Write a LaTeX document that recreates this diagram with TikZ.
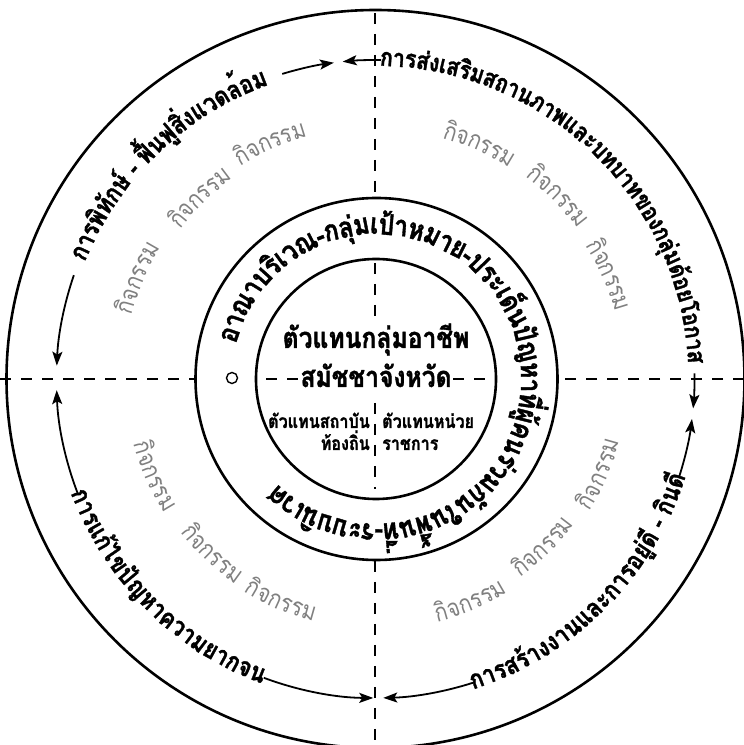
\documentclass[tikz,border=0pt]{standalone}
\usepackage{fontspec}
\newfontfamily\thai[Script=Thai]{Loma}
\newfontfamily\thaiN[Script=Thai,FakeStretch=0.85,BoldFeatures={FakeBold=1.2}]{Loma}
\usetikzlibrary{decorations.text,arrows.meta,calc}
\newcommand\lblfont{\thaiN\bfseries\fontsize{26}{28}\selectfont}
\newcommand\lblfontb{\thaiN\bfseries\fontsize{25}{27}\selectfont}
\newcommand\ringfont{\thaiN\bfseries\fontsize{29}{31}\selectfont}
\newcommand\actfont{\thaiN\fontsize{25}{27}\selectfont}
\definecolor{actgray}{gray}{0.5}
% #1 font, #2 colour, #3 radius, #4 start angle, #5 end angle, #6 text
\newcommand\arcword[6]{%
  \path[decorate,decoration={text along path,text align=center,raise=-6pt,
    text color=#2,text={|#1|#6}}]
    ($(C)+(#4:#3)$) arc[start angle=#4,end angle=#5,radius=#3];}
\begin{document}
\begin{tikzpicture}[x=1pt,y=1pt,
  circ/.style={line width=2.6pt},
  dsh/.style={line width=2.2pt,dash pattern=on 11pt off 10pt},
  arr/.style={line width=1.8pt,-{Stealth[length=14pt,width=10pt,inset=3pt]}},
  ctext/.style={inner sep=0pt,font=\thaiN\bfseries\fontsize{29}{31}\selectfont},
  stext/.style={inner sep=0pt,font=\thaiN\bfseries\fontsize{19}{21}\selectfont},
]
\useasboundingbox (0,0) rectangle (744,745);
\coordinate (C) at (375.5,366);
\coordinate (M) at (376.5,366);
\coordinate (I) at (376,366);

% circles
\draw[circ] (C) circle[radius=369];
\draw[circ] (M) circle[radius=181];
\draw[circ] (I) circle[radius=120];

% dashed axes
\coordinate (hl0) at (0,366);   \coordinate (hl1) at (195,366);
\coordinate (hr0) at (558,366); \coordinate (hr1) at (744,366);
\coordinate (vt0) at (375,732); \coordinate (vt1) at (375,549);
\coordinate (vb0) at (375,184); \coordinate (vb1) at (375,0);
\coordinate (ihl0) at (266,366); \coordinate (ihl1) at (298,366);
\coordinate (ihr0) at (453,366); \coordinate (ihr1) at (485,366);
\coordinate (ivt0) at (375,482); \coordinate (ivt1) at (375,427);
\coordinate (ivb0) at (375,342); \coordinate (ivb1) at (375,256);
\draw[dsh] (hl0) -- (hl1);
\draw[dsh] (hr1) -- (hr0);
\draw[dsh] (vt0) -- (vt1);
\draw[dsh] (vb0) -- (vb1);
\draw[dsh] (ihl0) -- (ihl1);
\draw[dsh] (ihr0) -- (ihr1);
\draw[dsh] (ivt0) -- (ivt1);
\draw[dsh] (ivb0) -- (ivb1);

% small circle
\node[circle,draw,line width=1.4pt,minimum size=11pt,inner sep=0pt] (dot) at (232,367) {};

% centre texts
\node[ctext,anchor=base] (occ) at (376,397) {ตัวแทนกลุ่มอาชีพ};
\node[ctext,anchor=base] (asm) at (376,358) {สมัชชาจังหวัด};
\node[stext,anchor=base east] (loc1) at (370,317) {ตัวแทนสถาบัน};
\node[stext,anchor=base east] (loc2) at (370,295) {ท้องถิ่น};
\node[stext,anchor=base west] (gov1) at (382,317) {ตัวแทนหน่วย};
\node[stext,anchor=base west] (gov2) at (382,295) {ราชการ};

% ring text
\path[decorate,decoration={text along path,text align=left,raise=-6.5pt,
  text={|\ringfont|{อา}{ณา}{บ}{ริ}{เว}{ณ}-{กลุ่ม}{เป้า}{ห}{มาย}-{ประ}{เด็น}{ปัญ}{หา}{ที่}{ผู้}{คน}{ร่วม}{กัน}{ใน}{พื้น}{ที่}-{ระ}{บบ}{นิ}{เวศ}}}]
  ($(M)+(166:151)$) arc[start angle=166,end angle=-185,radius=151];

% outer labels
\arcword{\lblfont}{black}{319}{169}{99}{{การ}{พิ}{ทักษ์} - {ฟื้น}{ฟู}{สิ่ง}{แวด}{ล้อม}}
\arcword{\lblfontb}{black}{319}{101}{-9}{{การ}{ส่ง}{เส}{ริม}{สถา}{น}{ภาพ}{และ}{บท}{บาท}{ของ}{กลุ่ม}{ด้อย}{โอ}{กาส}}
\arcword{\lblfont}{black}{319}{190}{260}{{การ}{แก้}{ไข}{ปัญ}{หา}{ความ}{ยาก}{จน}}
\arcword{\lblfont}{black}{319}{275}{355}{{การ}{สร้าง}{งาน}{และ}{การ}{อยู่}{ดี} - {กิน}{ดี}}

% arrows on the outer track
\draw[arr] ($(C)+(107:319)$) arc[start angle=107,end angle=97.5,radius=319];
\draw[arr] ($(C)+(161:319)$) arc[start angle=161,end angle=177.6,radius=319];
\draw[arr] ($(C)+(89:319)$) arc[start angle=89,end angle=95.9,radius=319];
\draw[arr] ($(C)+(1:319)$) arc[start angle=1,end angle=-5.3,radius=319];
\draw[arr] ($(C)+(288:319)$) arc[start angle=288,end angle=271.4,radius=319];
\draw[arr] ($(C)+(342:319)$) arc[start angle=342,end angle=352.8,radius=319];
\draw[arr] ($(C)+(201:319)$) arc[start angle=201,end angle=182,radius=319];
\draw[arr] ($(C)+(249.5:319)$) arc[start angle=249.5,end angle=269.6,radius=319];

% activities
\arcword{\actfont}{actgray}{258}{169}{145}{{กิ}{จ}{ก}{ร}{ร}{ม}}
\arcword{\actfont}{actgray}{252}{146}{122}{{กิ}{จ}{ก}{ร}{ร}{ม}}
\arcword{\actfont}{actgray}{258}{126}{102}{{กิ}{จ}{ก}{ร}{ร}{ม}}
\arcword{\actfont}{actgray}{256}{78}{54}{{กิ}{จ}{ก}{ร}{ร}{ม}}
\arcword{\actfont}{actgray}{258}{57}{33}{{กิ}{จ}{ก}{ร}{ร}{ม}}
\arcword{\actfont}{actgray}{255}{36}{12}{{กิ}{จ}{ก}{ร}{ร}{ม}}
\arcword{\actfont}{actgray}{244}{191.7}{215.7}{{กิ}{จ}{ก}{ร}{ร}{ม}}
\arcword{\actfont}{actgray}{242}{215}{239}{{กิ}{จ}{ก}{ร}{ร}{ม}}
\arcword{\actfont}{actgray}{244}{235}{259}{{กิ}{จ}{ก}{ร}{ร}{ม}}
\arcword{\actfont}{actgray}{245}{281}{305}{{กิ}{จ}{ก}{ร}{ร}{ม}}
\arcword{\actfont}{actgray}{240}{303}{327}{{กิ}{จ}{ก}{ร}{ร}{ม}}
\arcword{\actfont}{actgray}{246}{325}{349}{{กิ}{จ}{ก}{ร}{ร}{ม}}
\end{tikzpicture}
\end{document}
